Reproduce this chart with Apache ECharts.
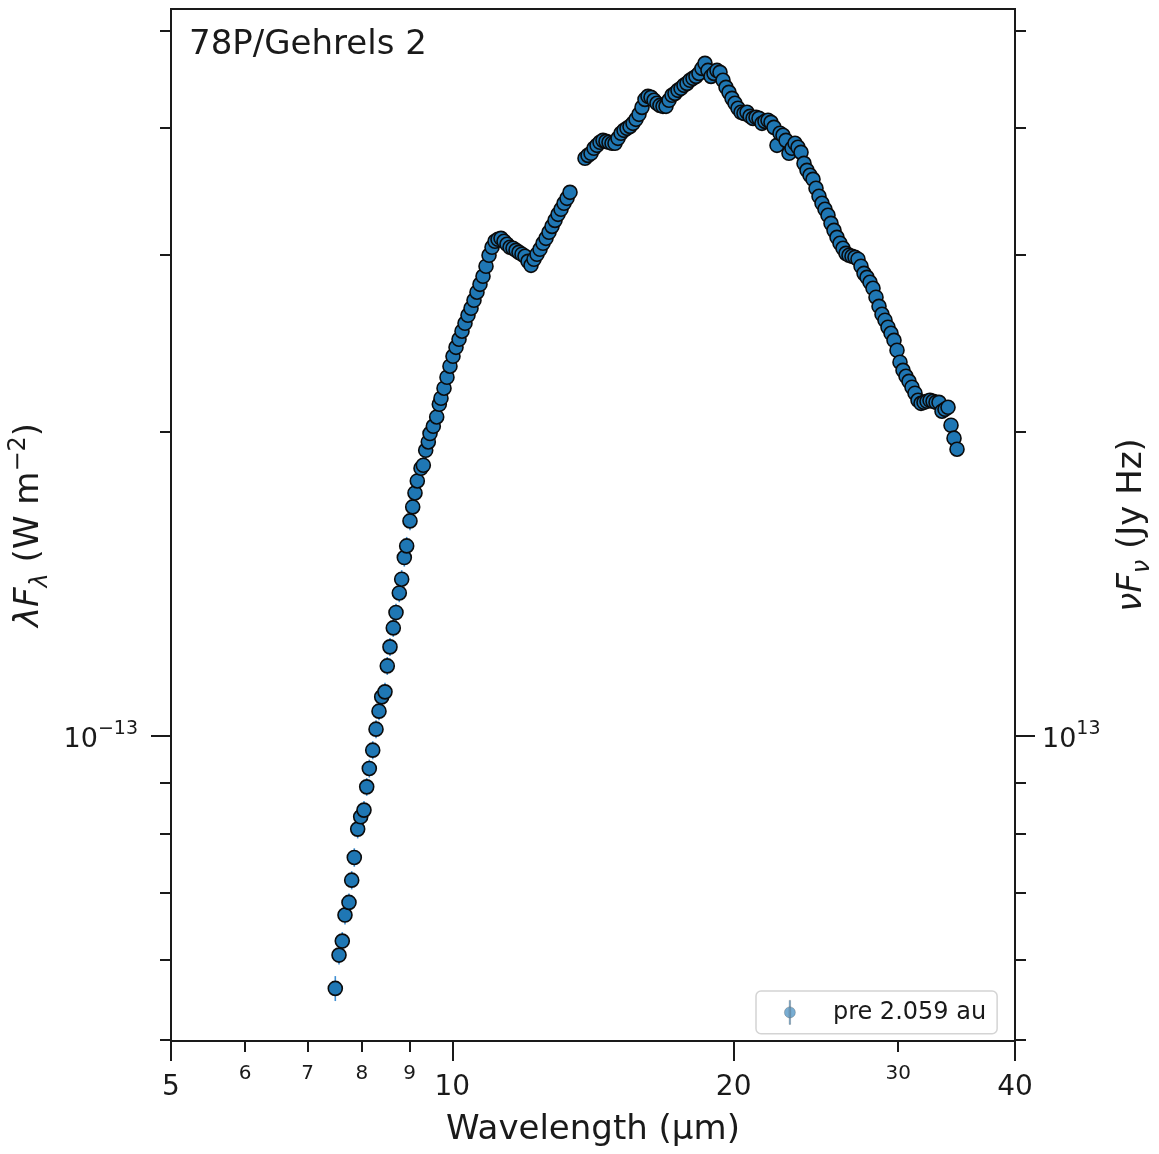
<!DOCTYPE html>
<html>
<head>
<meta charset="utf-8">
<script src="https://cdn.jsdelivr.net/npm/echarts/dist/echarts.min.js"></script>
<style>
html,body{margin:0;padding:0;background:#ffffff;}
#chart{width:1159px;height:1154px;}
</style>
</head>
<body>
<div id="chart"></div>
<script>
// ---- data ----
// wavelength in micrometres
const wavelength = [
  7.495, 7.564, 7.625, 7.676, 7.752, 7.804, 7.854, 7.920, 7.979, 8.044,
  8.098, 8.150, 8.219, 8.286, 8.347, 8.403, 8.471, 8.519, 8.576, 8.646,
  8.704, 8.775, 8.827, 8.884, 8.936, 9.009, 9.070, 9.121, 9.173, 9.257,
  9.310, 9.365, 9.425, 9.465, 9.542, 9.622, 9.684,
  9.724, 9.797, 9.869, 9.942, 10.016, 10.091, 10.166, 10.241, 10.317, 10.393,
  10.471, 10.548, 10.626, 10.705, 10.785, 10.865, 10.946, 11.027, 11.109, 11.191,
  11.274, 11.358, 11.442, 11.527, 11.612, 11.699, 11.785, 11.873, 11.961, 12.050,
  12.139, 12.229, 12.320, 12.411, 12.503, 12.596, 12.689, 12.784, 12.878, 12.974,
  13.070, 13.167, 13.265, 13.363,
  13.866, 13.969, 14.073, 14.177, 14.282, 14.388, 14.495, 14.602, 14.711, 14.820,
  14.930, 15.041, 15.152, 15.265, 15.378, 15.492, 15.607, 15.723, 15.839, 15.957,
  16.075, 16.194, 16.315, 16.436, 16.557, 16.680, 16.804, 16.929, 17.054, 17.181,
  17.308, 17.436, 17.566, 17.696, 17.827, 17.960, 18.093, 18.227, 18.362, 18.498,
  18.636, 18.774, 18.914, 19.054, 19.195, 19.338, 19.481, 19.626, 19.771, 19.918,
  20.066, 20.215, 20.365, 20.516, 20.668, 20.822, 20.976, 21.132, 21.288, 21.446,
  21.605, 21.765, 21.927, 22.089, 22.253, 22.418, 22.584, 22.752, 22.920, 23.091,
  23.263, 23.436, 23.610, 23.785, 23.961, 24.139, 24.318, 24.498, 24.680, 24.863,
  25.047, 25.233, 25.420, 25.609, 25.799, 25.990, 26.183, 26.377, 26.573, 26.770,
  26.969, 27.169, 27.371, 27.574, 27.778, 27.985, 28.192, 28.401, 28.612, 28.824,
  29.038, 29.253, 29.471, 29.689, 29.909, 30.131, 30.355, 30.580, 30.807, 31.035,
  31.266, 31.498, 31.731, 31.967, 32.204, 32.443, 32.684, 32.926, 33.170, 33.416,
  33.665, 33.915, 34.166, 34.420, 34.675
];
// lambda F_lambda in W m^-2
const flux = [
  0.5626e-13, 0.6070e-13, 0.6267e-13, 0.6650e-13, 0.6845e-13, 0.7201e-13, 0.7584e-13, 0.8090e-13, 0.8320e-13, 0.8448e-13,
  0.8908e-13, 0.9290e-13, 0.9686e-13, 1.0161e-13, 1.0587e-13, 1.0937e-13, 1.1063e-13, 1.1738e-13, 1.2258e-13, 1.2800e-13,
  1.3258e-13, 1.3863e-13, 1.4303e-13, 1.5029e-13, 1.5432e-13, 1.6337e-13, 1.6867e-13, 1.7413e-13, 1.7896e-13, 1.8422e-13,
  1.8548e-13, 1.9193e-13, 1.9560e-13, 1.9938e-13, 2.0273e-13, 2.0707e-13, 2.1316e-13,
  2.161e-13, 2.211e-13, 2.267e-13, 2.325e-13, 2.378e-13, 2.427e-13, 2.472e-13, 2.518e-13, 2.564e-13, 2.611e-13,
  2.653e-13, 2.702e-13, 2.752e-13, 2.802e-13, 2.854e-13, 2.920e-13, 2.994e-13, 3.049e-13, 3.091e-13, 3.105e-13,
  3.112e-13, 3.091e-13, 3.070e-13, 3.049e-13, 3.042e-13, 3.028e-13, 3.014e-13, 3.001e-13, 2.987e-13, 2.953e-13,
  2.926e-13, 2.967e-13, 3.001e-13, 3.035e-13, 3.077e-13, 3.112e-13, 3.155e-13, 3.198e-13, 3.242e-13, 3.287e-13,
  3.325e-13, 3.371e-13, 3.409e-13, 3.456e-13,
  3.735e-13, 3.760e-13, 3.778e-13, 3.821e-13, 3.847e-13, 3.874e-13, 3.891e-13, 3.882e-13, 3.874e-13, 3.865e-13,
  3.865e-13, 3.909e-13, 3.954e-13, 3.981e-13, 3.999e-13, 4.017e-13, 4.045e-13, 4.082e-13, 4.129e-13, 4.195e-13,
  4.272e-13, 4.302e-13, 4.292e-13, 4.263e-13, 4.234e-13, 4.214e-13, 4.205e-13, 4.205e-13, 4.263e-13, 4.312e-13,
  4.331e-13, 4.361e-13, 4.381e-13, 4.411e-13, 4.431e-13, 4.462e-13, 4.482e-13, 4.502e-13, 4.533e-13, 4.585e-13,
  4.638e-13, 4.564e-13, 4.502e-13, 4.533e-13, 4.564e-13, 4.544e-13, 4.462e-13, 4.391e-13, 4.341e-13, 4.282e-13,
  4.234e-13, 4.186e-13, 4.148e-13, 4.138e-13, 4.148e-13, 4.110e-13, 4.091e-13, 4.101e-13, 4.091e-13, 4.045e-13,
  4.063e-13, 4.073e-13, 4.054e-13, 4.008e-13, 3.847e-13, 3.954e-13, 3.936e-13, 3.891e-13, 3.778e-13, 3.821e-13,
  3.865e-13, 3.830e-13, 3.786e-13, 3.692e-13, 3.634e-13, 3.593e-13, 3.560e-13, 3.488e-13, 3.425e-13, 3.371e-13,
  3.325e-13, 3.280e-13, 3.220e-13, 3.169e-13, 3.119e-13, 3.077e-13, 3.042e-13, 3.007e-13, 2.994e-13, 2.987e-13,
  2.980e-13, 2.967e-13, 2.920e-13, 2.873e-13, 2.847e-13, 2.815e-13, 2.777e-13, 2.721e-13, 2.665e-13, 2.617e-13,
  2.582e-13, 2.541e-13, 2.506e-13, 2.466e-13, 2.411e-13, 2.346e-13, 2.303e-13, 2.272e-13, 2.246e-13, 2.216e-13,
  2.186e-13, 2.151e-13, 2.136e-13, 2.141e-13, 2.146e-13, 2.151e-13, 2.146e-13, 2.141e-13, 2.141e-13, 2.098e-13,
  2.107e-13, 2.117e-13, 2.032e-13, 1.973e-13, 1.924e-13
];
// 1-sigma errors, readable only for the sparse short-wavelength points (first entries)
const fluxErr = [
  1.6e-15, 1.3e-15, 1.3e-15, 1.4e-15, 1.4e-15, 1.5e-15, 1.6e-15, 1.7e-15, 1.7e-15, 1.8e-15,
  1.8e-15, 1.9e-15, 2.0e-15, 2.1e-15, 2.2e-15, 2.3e-15, 2.3e-15, 2.4e-15, 2.5e-15, 2.6e-15,
  2.7e-15, 2.9e-15, 3.0e-15, 3.1e-15, 3.2e-15, 3.4e-15, 3.5e-15, 3.6e-15, 3.7e-15, 3.8e-15,
  3.8e-15, 4.0e-15, 4.0e-15, 4.1e-15, 4.2e-15, 4.3e-15, 4.4e-15
];
const seriesName = 'pre 2.059 au';
const targetName = '78P/Gehrels 2';
const xRange = [5, 40];
const xMajorTicks = [5, 10, 20, 40];
const xMinorTicks = [6, 7, 8, 9, 30];
const yRange = [4.99e-14, 5.25e-13];           // W m^-2
const yMajorTicks = [1e-13];
const yMinorTicks = [5e-14, 6e-14, 7e-14, 8e-14, 9e-14, 2e-13, 3e-13, 4e-13, 5e-13];
const JYHZ_PER_WM2 = 1e26;                       // unit conversion for the right axis

// ---- chart ----
const FONT = 'DejaVu Sans';
const INK = '#1a1a1a';
const toR = v => v * JYHZ_PER_WM2;

const points = wavelength.map((w, i) => [w, flux[i]]);
const errPoints = fluxErr.map((e, i) => [wavelength[i], flux[i], e]);

const axisLineStyle = {color: INK, width: 2};

function xAxisBase(extra) {
  return Object.assign({
    type: 'log', logBase: 10, min: xRange[0], max: xRange[1], position: 'bottom',
    splitLine: {show: false}, minorTick: {show: false}, minorSplitLine: {show: false}
  }, extra);
}
function yAxisBase(extra) {
  return Object.assign({
    type: 'log', logBase: 10,
    splitLine: {show: false}, minorTick: {show: false}, minorSplitLine: {show: false}
  }, extra);
}

const option = {
  animation: false,
  backgroundColor: '#ffffff',
  textStyle: {fontFamily: FONT},
  title: {
    text: targetName, left: 189, top: 28, padding: 0,
    textStyle: {fontFamily: FONT, fontSize: 34, fontWeight: 'normal', color: INK}
  },
  grid: {
    left: 171, right: 144, top: 9, bottom: 113,
    containLabel: false, outerBoundsMode: 'none',
    show: true, borderColor: INK, borderWidth: 2, backgroundColor: 'transparent'
  },
  legend: {
    left: 756, top: 991,
    padding: [9, 11, 9, 28],
    backgroundColor: '#ffffff', borderColor: '#d4d4d4', borderWidth: 1.5, borderRadius: 5,
    itemWidth: 12, itemHeight: 24,
    selectedMode: false,
    textStyle: {fontFamily: FONT, fontSize: 24, color: INK, padding: [0, 0, 0, 32]},
    data: [{
      name: seriesName,
      icon: 'path://M5.3 0h1.4v24h-1.4z M0.5 12a5.5 5.5 0 1 1 11 0a5.5 5.5 0 1 1 -11 0z',
      itemStyle: {color: 'rgba(31,119,180,0.6)', borderColor: 'rgba(40,40,40,0.3)', borderWidth: 0.8}
    }]
  },
  xAxis: [
    xAxisBase({
      axisLine: {show: true, lineStyle: axisLineStyle},
      axisTick: {show: true, customValues: xMajorTicks, length: 20, lineStyle: axisLineStyle},
      axisLabel: {
        customValues: xMajorTicks, margin: 33, fontSize: 28, color: INK, fontFamily: FONT,
        showMinLabel: true, showMaxLabel: true, hideOverlap: false,
        formatter: v => String(Math.round(v))
      },
      name: 'Wavelength (µm)', nameLocation: 'middle', nameGap: 72,
      nameTextStyle: {fontFamily: FONT, fontSize: 34, color: INK}
    }),
    xAxisBase({
      axisLine: {show: false},
      axisTick: {show: true, customValues: xMinorTicks, length: 11, lineStyle: axisLineStyle},
      axisLabel: {
        customValues: xMinorTicks, margin: 23, fontSize: 20, color: INK, fontFamily: FONT,
        hideOverlap: false, formatter: v => String(Math.round(v))
      }
    })
  ],
  yAxis: [
    yAxisBase({
      position: 'left', min: yRange[0], max: yRange[1],
      axisLine: {show: true, lineStyle: axisLineStyle},
      axisTick: {show: true, customValues: yMajorTicks, length: 20, lineStyle: axisLineStyle},
      axisLabel: {
        customValues: yMajorTicks, margin: 33, color: INK, hideOverlap: false,
        formatter: () => '{b|10}{s|−13}',
        rich: {
          b: {fontFamily: FONT, fontSize: 27, color: INK, lineHeight: 34, verticalAlign: 'bottom'},
          s: {fontFamily: FONT, fontSize: 19, color: INK, lineHeight: 22, verticalAlign: 'top'}
        }
      },
      name: '{i|λF}{sub|λ}{n| (W m}{sup|−2}{n|)}',
      nameLocation: 'middle', nameRotate: 90, nameGap: 118,
      nameTextStyle: {
        rich: {
          i: {fontFamily: FONT, fontSize: 34, fontStyle: 'italic', color: INK, lineHeight: 46, verticalAlign: 'middle'},
          n: {fontFamily: FONT, fontSize: 34, color: INK, lineHeight: 46, verticalAlign: 'middle'},
          sub: {fontFamily: FONT, fontSize: 24, fontStyle: 'italic', color: INK, lineHeight: 20, verticalAlign: 'bottom'},
          sup: {fontFamily: FONT, fontSize: 24, color: INK, lineHeight: 26, verticalAlign: 'top'}
        }
      }
    }),
    yAxisBase({
      position: 'left', min: yRange[0], max: yRange[1],
      axisLine: {show: false},
      axisTick: {show: true, customValues: yMinorTicks, length: 11, lineStyle: axisLineStyle},
      axisLabel: {show: false}
    }),
    yAxisBase({
      position: 'right', min: toR(yRange[0]), max: toR(yRange[1]),
      axisLine: {show: true, lineStyle: axisLineStyle},
      axisTick: {show: true, customValues: yMajorTicks.map(toR), length: 20, lineStyle: axisLineStyle},
      axisLabel: {
        customValues: yMajorTicks.map(toR), margin: 27, color: INK, hideOverlap: false,
        formatter: () => '{b|10}{s|13}',
        rich: {
          b: {fontFamily: FONT, fontSize: 27, color: INK, lineHeight: 34, verticalAlign: 'bottom'},
          s: {fontFamily: FONT, fontSize: 19, color: INK, lineHeight: 22, verticalAlign: 'top'}
        }
      },
      name: '{i|νF}{sub|ν}{n| (Jy Hz)}',
      nameLocation: 'middle', nameRotate: 90, nameGap: 94,
      nameTextStyle: {
        rich: {
          i: {fontFamily: FONT, fontSize: 34, fontStyle: 'italic', color: INK, lineHeight: 46, verticalAlign: 'middle'},
          n: {fontFamily: FONT, fontSize: 34, color: INK, lineHeight: 46, verticalAlign: 'middle'},
          sub: {fontFamily: FONT, fontSize: 24, fontStyle: 'italic', color: INK, lineHeight: 20, verticalAlign: 'bottom'}
        }
      }
    }),
    yAxisBase({
      position: 'right', min: toR(yRange[0]), max: toR(yRange[1]),
      axisLine: {show: false},
      axisTick: {show: true, customValues: yMinorTicks.map(toR), length: 11, lineStyle: axisLineStyle},
      axisLabel: {show: false}
    })
  ],
  series: [
    {
      name: 'errors',
      type: 'custom',
      xAxisIndex: 0, yAxisIndex: 0,
      encode: {x: 0, y: 1},
      data: errPoints,
      z: 2,
      silent: true,
      renderItem: function (params, api) {
        const x = api.value(0), y = api.value(1), e = api.value(2);
        const p1 = api.coord([x, y - e]);
        const p2 = api.coord([x, y + e]);
        return {
          type: 'line',
          shape: {x1: p1[0], y1: p1[1], x2: p2[0], y2: p2[1]},
          style: {stroke: '#3f8fd2', lineWidth: 1.6}
        };
      }
    },
    {
      name: seriesName,
      type: 'scatter',
      xAxisIndex: 0, yAxisIndex: 0,
      data: points,
      symbol: 'circle',
      symbolSize: 14,
      z: 3,
      itemStyle: {color: '#1f77b4', borderColor: '#0b0b0b', borderWidth: 1.6, opacity: 1}
    }
  ]
};

const chart = echarts.init(document.getElementById('chart'), null, {renderer: 'canvas'});
chart.setOption(option);
</script>
</body>
</html>
